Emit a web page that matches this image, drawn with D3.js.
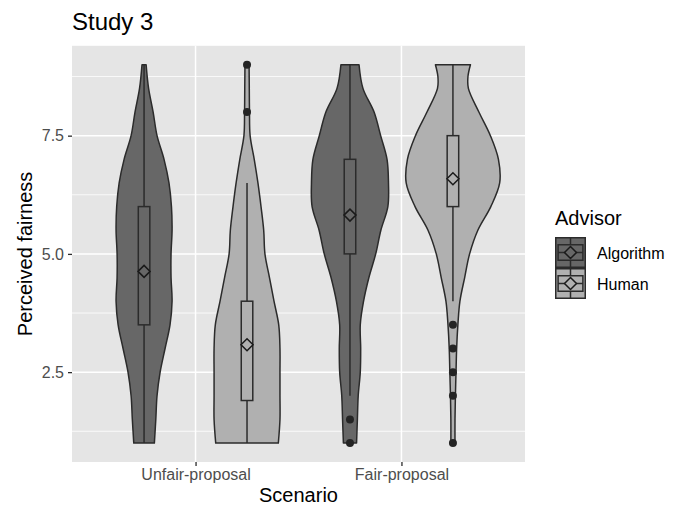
<!DOCTYPE html>
<html>
<head>
<meta charset="utf-8">
<script src="https://cdn.jsdelivr.net/npm/d3@7"></script>
<style>
body { margin: 0; background: #fff; }
text { font-family: "Liberation Sans", Arial, sans-serif; }
</style>
</head>
<body>
<svg id="chart" width="678" height="507"></svg>
<script>
// categories
var scenarios = ["Unfair-proposal", "Fair-proposal"];
var advisors = ["Algorithm", "Human"];
var yTicks = [2.5, 5.0, 7.5];
var yMinor = [1.25, 3.75, 6.25, 8.75];

// one entry per violin: scenario index, advisor index
var groupScenario = [0, 0, 1, 1];
var groupAdvisor = [0, 1, 0, 1];

// violin outlines: [value, half width in category units]
var violinUnfairAlgorithm = [[1,0.050],[1.5,0.057],[2,0.063],[2.5,0.078],[3,0.102],[3.5,0.126],[4,0.136],[4.5,0.131],[5,0.131],[5.5,0.136],[6,0.133],[6.5,0.121],[7,0.097],[7.5,0.063],[8,0.044],[8.5,0.022],[9,0.010]];
var violinUnfairHuman = [[1,0.152],[1.5,0.160],[2,0.160],[2.5,0.160],[3,0.160],[3.5,0.154],[4,0.131],[4.5,0.109],[5,0.087],[5.5,0.081],[6,0.068],[6.5,0.053],[7,0.035],[7.5,0.015],[8,0.012],[8.5,0.011],[9,0.010]];
var violinFairAlgorithm = [[1,0.032],[1.5,0.036],[2,0.040],[2.5,0.050],[3,0.052],[3.5,0.050],[4,0.066],[4.5,0.092],[5,0.125],[5.5,0.150],[6,0.184],[6.5,0.187],[7,0.180],[7.5,0.149],[8,0.117],[8.5,0.063],[9,0.044]];
var violinFairHuman = [[1,0.010],[1.5,0.010],[2,0.012],[2.5,0.015],[3,0.018],[3.5,0.024],[4,0.034],[4.5,0.057],[5,0.081],[5.5,0.121],[6,0.184],[6.5,0.227],[7,0.221],[7.5,0.182],[8,0.126],[8.5,0.075],[8.75,0.073],[9,0.085]];
var violins = [violinUnfairAlgorithm, violinUnfairHuman, violinFairAlgorithm, violinFairHuman];

// box statistics
var whiskerLow = [1.0, 1.0, 2.0, 4.0];
var hingeLow = [3.5, 1.9, 5.0, 6.0];
var hingeHigh = [6.0, 4.0, 7.0, 7.5];
var whiskerHigh = [9.0, 6.5, 9.0, 9.0];
var means = [4.63, 3.08, 5.82, 6.59];
var outliers = [[], [8, 9], [1.5, 1.0], [3.5, 3.0, 2.5, 2.0, 1.0]];

var W = 678, H = 507;
var panel = {left: 72, right: 525, top: 45.8, bottom: 462};
var dodge = 0.25, boxHalf = 0.028;
var ink = "#2b2b2b", lw = 1.5;
var fillScale = d3.scaleOrdinal().domain(advisors).range(["#676767", "#b0b0b0"]);

var svg = d3.select("#chart");

var x = d3.scaleLinear().domain([0.4, 2.6]).range([panel.left, panel.right]);
var y = d3.scaleLinear().domain([0.6, 9.4]).range([panel.bottom, panel.top]);

// panel background + grid
svg.append("rect")
	.attr("x", panel.left)
	.attr("y", panel.top)
	.attr("width", panel.right - panel.left)
	.attr("height", panel.bottom - panel.top)
	.style("fill", "#e5e5e5");

svg.selectAll(".minorGrid").data(yMinor).enter()
	.append("line")
	.attr("class", "minorGrid")
	.attr("x1", panel.left).attr("x2", panel.right)
	.attr("y1", function(d) { return y(d); })
	.attr("y2", function(d) { return y(d); })
	.style("stroke", "#fff").style("stroke-width", 0.8);

svg.selectAll(".majorGridY").data(yTicks).enter()
	.append("line")
	.attr("class", "majorGridY")
	.attr("x1", panel.left).attr("x2", panel.right)
	.attr("y1", function(d) { return y(d); })
	.attr("y2", function(d) { return y(d); })
	.style("stroke", "#fff").style("stroke-width", 1.5);

svg.selectAll(".majorGridX").data([1, 2]).enter()
	.append("line")
	.attr("class", "majorGridX")
	.attr("y1", panel.top).attr("y2", panel.bottom)
	.attr("x1", function(d) { return x(d); })
	.attr("x2", function(d) { return x(d); })
	.style("stroke", "#fff").style("stroke-width", 1.5);

function centerOf(i) {
	return groupScenario[i] + 1 + (groupAdvisor[i] === 0 ? -dodge : dodge);
}

// violins
violins.forEach(function(prof, i) {
	var c = centerOf(i);
	var area = d3.area()
		.y(function(d) { return y(d[0]); })
		.x0(function(d) { return x(c - d[1]); })
		.x1(function(d) { return x(c + d[1]); })
		.curve(d3.curveCatmullRom);
	svg.append("path")
		.datum(prof)
		.attr("class", "violin")
		.attr("d", area)
		.style("fill", fillScale(advisors[groupAdvisor[i]]))
		.style("stroke", ink)
		.style("stroke-width", lw)
		.style("stroke-linejoin", "round");
});

// boxplots
violins.forEach(function(prof, i) {
	var c = centerOf(i);
	var g = svg.append("g").attr("class", "box");
	var f = fillScale(advisors[groupAdvisor[i]]);
	g.append("line")
		.attr("x1", x(c)).attr("x2", x(c))
		.attr("y1", y(whiskerLow[i])).attr("y2", y(hingeLow[i]))
		.style("stroke", ink).style("stroke-width", lw);
	g.append("line")
		.attr("x1", x(c)).attr("x2", x(c))
		.attr("y1", y(hingeHigh[i])).attr("y2", y(whiskerHigh[i]))
		.style("stroke", ink).style("stroke-width", lw);
	g.append("rect")
		.attr("x", x(c - boxHalf))
		.attr("y", y(hingeHigh[i]))
		.attr("width", x(c + boxHalf) - x(c - boxHalf))
		.attr("height", y(hingeLow[i]) - y(hingeHigh[i]))
		.style("fill", f)
		.style("stroke", ink).style("stroke-width", lw);
	g.selectAll("circle").data(outliers[i]).enter()
		.append("circle")
		.attr("cx", x(c))
		.attr("cy", function(d) { return y(d); })
		.attr("r", 4)
		.style("fill", "#242424");
	var my = y(means[i]), mx = x(c), r = 6;
	g.append("path")
		.attr("d", "M" + (mx - r) + "," + my + "L" + mx + "," + (my - r) + "L" + (mx + r) + "," + my + "L" + mx + "," + (my + r) + "Z")
		.style("fill", f)
		.style("stroke", "#1a1a1a").style("stroke-width", 1.5);
});

// axes
var xAxis = d3.axisBottom(x)
	.tickValues([1, 2])
	.tickFormat(function(d) { return scenarios[d - 1]; })
	.tickSize(4).tickPadding(3);
var gx = svg.append("g")
	.attr("transform", "translate(0," + panel.bottom + ")")
	.call(xAxis);
gx.select(".domain").remove();
gx.selectAll("line").style("stroke", ink).style("stroke-width", 1.3);
gx.selectAll("text")
	.style("font-family", "Liberation Sans, Arial, sans-serif")
	.style("font-size", "16px")
	.style("fill", "#4d4d4d");

var yAxis = d3.axisLeft(y)
	.tickValues(yTicks)
	.tickFormat(d3.format(".1f"))
	.tickSize(4).tickPadding(4);
var gy = svg.append("g")
	.attr("transform", "translate(" + panel.left + ",0)")
	.call(yAxis);
gy.select(".domain").remove();
gy.selectAll("line").style("stroke", ink).style("stroke-width", 1.3);
gy.selectAll("text")
	.style("font-family", "Liberation Sans, Arial, sans-serif")
	.style("font-size", "16px")
	.style("fill", "#4d4d4d");

// titles
svg.append("text")
	.attr("x", panel.left)
	.attr("y", 30)
	.style("font-size", "24px")
	.style("fill", "#000")
	.text("Study 3");

svg.append("text")
	.attr("x", (panel.left + panel.right) / 2)
	.attr("y", 502)
	.style("font-size", "20px")
	.style("text-anchor", "middle")
	.text("Scenario");

svg.append("text")
	.attr("transform", "translate(32," + ((panel.top + panel.bottom) / 2) + ") rotate(-90)")
	.style("font-size", "20px")
	.style("text-anchor", "middle")
	.text("Perceived fairness");

// legend
var lx = 555, ly = 237, ks = 31;
svg.append("text")
	.attr("x", lx)
	.attr("y", 225)
	.style("font-size", "20px")
	.text("Advisor");

advisors.forEach(function(a, i) {
	var ky = ly + i * ks;
	var f = fillScale(a);
	var g = svg.append("g").attr("class", "legendKey");
	g.append("rect")
		.attr("x", lx + 0.75).attr("y", ky + 0.75)
		.attr("width", ks - 1.5).attr("height", ks - 1.5)
		.style("fill", f).style("stroke", ink).style("stroke-width", lw);
	g.append("line")
		.attr("x1", lx + ks / 2).attr("x2", lx + ks / 2)
		.attr("y1", ky).attr("y2", ky + ks * 0.25)
		.style("stroke", ink).style("stroke-width", lw);
	g.append("line")
		.attr("x1", lx + ks / 2).attr("x2", lx + ks / 2)
		.attr("y1", ky + ks * 0.75).attr("y2", ky + ks)
		.style("stroke", ink).style("stroke-width", lw);
	g.append("rect")
		.attr("x", lx + ks * 0.1).attr("y", ky + ks * 0.25)
		.attr("width", ks * 0.8).attr("height", ks * 0.5)
		.style("fill", f).style("stroke", ink).style("stroke-width", lw);
	g.append("line")
		.attr("x1", lx + ks * 0.1).attr("x2", lx + ks * 0.9)
		.attr("y1", ky + ks / 2).attr("y2", ky + ks / 2)
		.style("stroke", ink).style("stroke-width", lw);
	var mx = lx + ks / 2, my = ky + ks / 2, r = 6;
	g.append("path")
		.attr("d", "M" + (mx - r) + "," + my + "L" + mx + "," + (my - r) + "L" + (mx + r) + "," + my + "L" + mx + "," + (my + r) + "Z")
		.style("fill", f)
		.style("stroke", "#1a1a1a").style("stroke-width", 1.5);
	svg.append("text")
		.attr("x", 597)
		.attr("y", ky + ks / 2 + 6)
		.style("font-size", "16px")
		.text(a);
});
</script>
</body>
</html>
